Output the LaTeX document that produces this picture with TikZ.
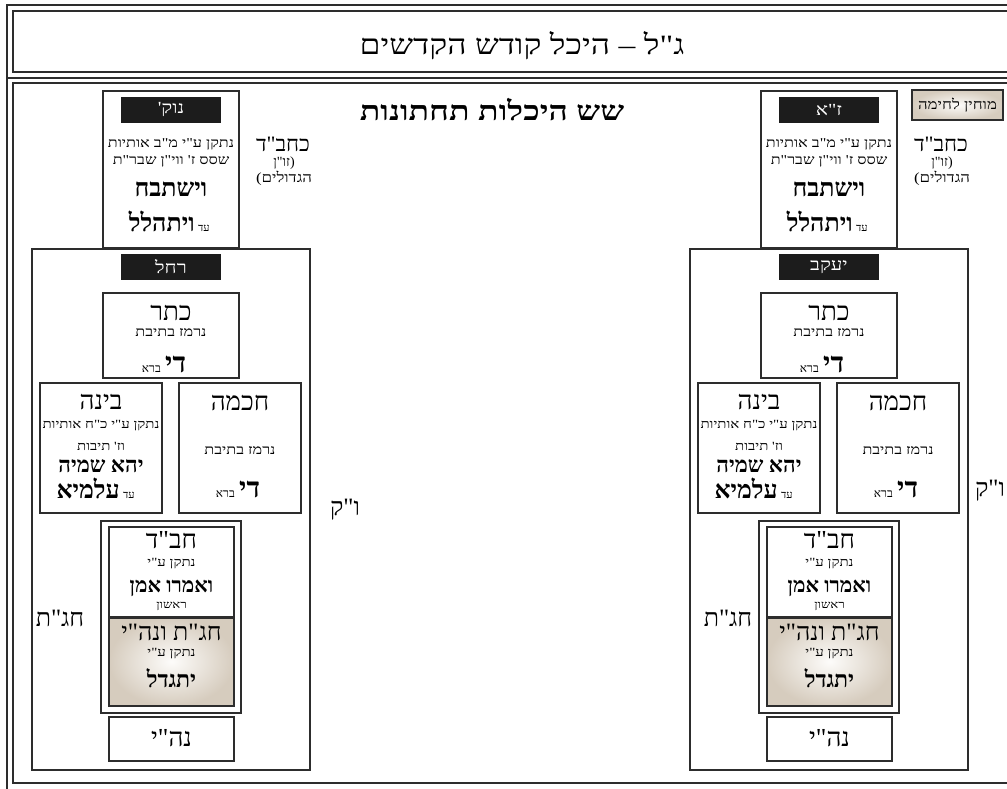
\documentclass[tikz,border=0pt]{standalone}
\usepackage{fontspec}
\newfontfamily\hebfont[Script=Hebrew]{Liberation Serif}
\newfontfamily\hebwide[Script=Hebrew,FakeStretch=1.2]{Liberation Serif}
\newfontfamily\hebxwide[Script=Hebrew,FakeStretch=1.25]{Liberation Serif}
\TeXXeTstate=1
\definecolor{linegray}{RGB}{45,45,45}
\definecolor{barblack}{RGB}{28,28,28}
\definecolor{tanedge}{RGB}{214,204,190}
\definecolor{tanmid}{RGB}{253,252,250}
\newcommand\hb[1]{\hebfont\fontsize{#1}{#1}\selectfont}
\newcommand\hw[1]{\hebwide\fontsize{#1}{#1}\selectfont}
\newcommand\hx[1]{\hebxwide\fontsize{#1}{#1}\selectfont}
\tikzset{
  outerframe/.style={draw=linegray, line width=2.5pt},
  bigsefbox/.style={draw=linegray, line width=2.4pt, inner sep=0pt},
  sefbox/.style={draw=linegray, line width=1.4pt, inner sep=0pt},
  namebar/.style={fill=barblack, text=white, inner sep=0pt, minimum width=100pt, minimum height=26pt},
  tanbox/.style={sefbox, shading=radial, inner color=tanmid, outer color=tanedge},
  txt/.style={inner sep=0pt},
}
\begin{document}
\begin{tikzpicture}[x=1pt,y=-1pt]
  \useasboundingbox (0,0) rectangle (1007,788);
  \clip (0,0) rectangle (1007,788);
  \fill[white] (0,0) rectangle (1007,788);
  \draw[outerframe] (7,5) rectangle (1030,800);
  \draw[outerframe] (13,11) rectangle (1030,72);
  \draw[outerframe] (7,78) -- (1030,78);
  \draw[outerframe] (13,83) rectangle (1030,783);
  \node[txt] (title) at (522,46) {{\hw{28}\beginR ג"ל – היכל קודש הקדשים\endR}};
  \node[txt] (heading) at (492,110) {{\hx{27}\bfseries\beginR שש היכלות תחתונות\endR}};
  \foreach \s/\dx/\upname/\lowname in {L/0/{נוק'}/רחל, R/658/{ז"א}/יעקב}{
    \node[bigsefbox, minimum width=278pt, minimum height=521pt] (lower\s) at ({171+\dx},509.5) {};
    \node[bigsefbox, minimum width=136pt, minimum height=157pt] (upper\s) at ({171+\dx},169.5) {};
    \node[namebar] (upperbar\s) at ({171+\dx},110) {{\hw{17}\beginR\upname\endR}};
    \node[txt] (uppertikun\s) at ({171+\dx},144) {{\hw{13.5}\beginR נתקן ע"י מ"ב אותיות\endR}};
    \node[txt] (upperletters\s) at ({171+\dx},161) {{\hw{13.5}\beginR שסס ז' ווי"ן שבר"ת\endR}};
    \node[txt] (yishtabach\s) at ({171+\dx},189) {{\hb{25}\bfseries\beginR וישתבח\endR}};
    \node[txt, anchor=base east] (yithalal\s) at ({195+\dx},231) {{\hb{25}\bfseries ויתהלל}};
    \node[txt, anchor=base west] (yithalalad\s) at ([xshift=3pt]yithalal\s.base east) {{\hb{11}עד}};
    \node[txt] (kachabad\s) at ({283+\dx},144) {{\hb{22}\beginR כחב"ד\endR}};
    \node[txt] (zun\s) at ({284+\dx},163) {{\hb{14}\beginR (זו"ן\endR}};
    \node[txt] (gedolim\s) at ({284+\dx},178) {{\hw{14}\beginR הגדולים)\endR}};
    \node[namebar] (lowerbar\s) at ({171+\dx},267) {{\hw{17}\beginR\lowname\endR}};
    \node[sefbox, minimum width=136pt, minimum height=85pt] (keter\s) at ({171+\dx},335.5) {};
    \node[txt] (ketername\s) at ({171+\dx},313) {{\hb{26}\beginR כתר\endR}};
    \node[txt] (ketertext\s) at ({171+\dx},333) {{\hw{13.5}\beginR נרמז בתיבת\endR}};
    \node[txt, anchor=base west] (keterdi\s) at ({165+\dx},372) {{\hb{28}\bfseries די}};
    \node[txt, anchor=base east] (keterbara\s) at ([xshift=-4pt]keterdi\s.base west) {{\hb{12}ברא}};
    \node[sefbox, minimum width=122pt, minimum height=130pt] (bina\s) at ({101+\dx},448) {};
    \node[txt] (binaname\s) at ({101+\dx},402) {{\hb{26}\beginR בינה\endR}};
    \node[txt] (binatikun\s) at ({101+\dx},426) {{\hw{12.5}\beginR נתקן ע"י כ"ח אותיות\endR}};
    \node[txt] (binatevot\s) at ({101+\dx},446) {{\hw{12.5}\beginR וז' תיבות\endR}};
    \node[txt] (yehe\s) at ({101+\dx},466) {{\hb{22}\bfseries\beginR יהא שמיה\endR}};
    \node[txt, anchor=base east] (alma\s) at ({120+\dx},498) {{\hb{25}\bfseries עלמיא}};
    \node[txt, anchor=base west] (almaad\s) at ([xshift=3pt]alma\s.base east) {{\hb{11}עד}};
    \node[sefbox, minimum width=122pt, minimum height=130pt] (chochma\s) at ({240+\dx},448) {};
    \node[txt] (chochmaname\s) at ({240+\dx},403) {{\hb{26}\beginR חכמה\endR}};
    \node[txt] (chochmatext\s) at ({240+\dx},451) {{\hw{13.5}\beginR נרמז בתיבת\endR}};
    \node[txt, anchor=base west] (chochmadi\s) at ({239+\dx},497) {{\hb{28}\bfseries די}};
    \node[txt, anchor=base east] (chochmabara\s) at ([xshift=-4pt]chochmadi\s.base west) {{\hb{12}ברא}};
    \node[sefbox, minimum width=140pt, minimum height=192pt] (chabad\s) at ({171+\dx},617) {};
    \node[sefbox, fill=white, minimum width=125pt, minimum height=90pt] (chabadtop\s) at ({171.5+\dx},572) {};
    \node[tanbox, minimum width=125pt, minimum height=89pt] (chagat\s) at ({171.5+\dx},661.5) {};
    \draw[linegray, line width=2pt] (chabadtop\s.south west) -- (chabadtop\s.south east);
    \node[txt] (chabadname\s) at ({171.5+\dx},540) {{\hb{26}\beginR חב"ד\endR}};
    \node[txt] (chabadtikun\s) at ({171.5+\dx},564) {{\hw{12.5}\beginR נתקן ע"י\endR}};
    \node[txt] (amen\s) at ({171.5+\dx},588) {{\hb{21}\bfseries\beginR ואמרו אמן\endR}};
    \node[txt] (rishon\s) at ({171.5+\dx},606) {{\hw{11}\beginR ראשון\endR}};
    \node[txt] (chagatname\s) at ({171.5+\dx},632) {{\hb{25}\beginR חג"ת ונה"י\endR}};
    \node[txt] (chagattikun\s) at ({171.5+\dx},654) {{\hw{12.5}\beginR נתקן ע"י\endR}};
    \node[txt] (yitgadal\s) at ({171.5+\dx},678) {{\hb{23}\bfseries\beginR יתגדל\endR}};
    \node[sefbox, minimum width=125pt, minimum height=44pt] (nehi\s) at ({171.5+\dx},739) {};
    \node[txt] (nehiname\s) at ({171.5+\dx},738) {{\hb{26}\beginR נה"י\endR}};
  }
  \node[txt] (chagatL) at (60,618) {{\hb{25}\beginR חג"ת\endR}};
  \node[txt] (chagatR) at (728,618) {{\hb{25}\beginR חג"ת\endR}};
  \node[txt] (vakL) at (345,510) {{\hb{25}\beginR ו"ק\endR}};
  \node[txt] (vakR) at (990,491) {{\hb{25}\beginR ו"ק\endR}};
  \node[tanbox, minimum width=91pt, minimum height=30pt] (mochin) at (957.5,105) {{\hw{14}\beginR מוחין לחימה\endR}};
\end{tikzpicture}
\end{document}
